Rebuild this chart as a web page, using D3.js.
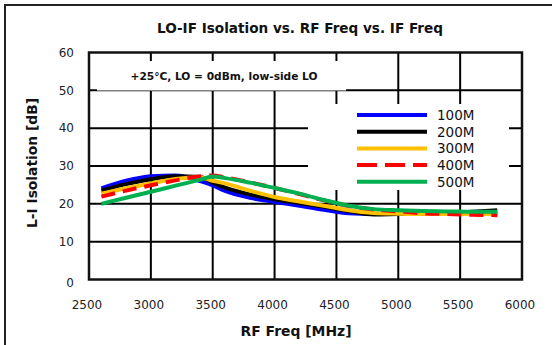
<!DOCTYPE html>
<html>
<head>
<meta charset="utf-8">
<script src="https://cdn.jsdelivr.net/npm/d3@7"></script>
<style>
	body { margin: 0; background: #fff; }
	text { font-family: "DejaVu Sans", Verdana, sans-serif; }
</style>
</head>
<body>
<svg id="graphic" width="552" height="345"></svg>
<script>
var rfFreq = [2600, 2800, 3000, 3200, 3400, 3500, 3600, 3800, 4000, 4200, 4400, 4600, 4800, 5000, 5200, 5400, 5600, 5800];

var iso100 = [24.1, 26.1, 27.3, 27.5, 26.0, 24.9, 23.4, 21.6, 20.5, 19.5, 18.4, 17.5, 17.3, 17.3, 17.3, 17.3, 17.3, 17.3];
var iso200 = [23.5, 25.2, 26.5, 27.3, 27.1, 25.6, 24.3, 22.5, 21.2, 20.2, 19.2, 18.1, 17.2, 17.3, 17.4, 17.6, 17.9, 18.3];
var iso300 = [22.7, 24.1, 25.4, 26.6, 27.0, 26.1, 25.4, 23.5, 21.8, 20.6, 19.5, 18.3, 17.6, 17.4, 17.3, 17.3, 17.3, 17.3];
var iso400 = [21.9, 23.5, 24.9, 26.2, 27.3, 27.5, 27.0, 25.7, 24.2, 22.6, 20.9, 19.4, 18.5, 18.0, 17.5, 17.3, 17.1, 17.0];
var iso500 = [20.0, 21.6, 23.2, 24.8, 26.4, 27.2, 26.8, 25.6, 24.2, 22.7, 21.0, 19.5, 18.6, 18.3, 18.1, 18.0, 17.9, 17.9];

var seriesNames = ["100M", "200M", "300M", "400M", "500M"];
var seriesValues = [iso100, iso200, iso300, iso400, iso500];
var seriesColors = ["#0000ff", "#000000", "#ffc000", "#ff0000", "#00b050"];

var xTicks = [2500, 3000, 3500, 4000, 4500, 5000, 5500, 6000];
var yTicks = [0, 10, 20, 30, 40, 50, 60];

var titleText = "LO-IF Isolation vs. RF Freq vs. IF Freq";
var noteText = "+25\u00b0C, LO = 0dBm, low-side LO";


function drawChart() {
	var svg = d3.select("svg"),
		plot = { left: 89, right: 522, top: 52.5, bottom: 279.5 };

	// outer frame, runs off the right and bottom edge
	svg.append("rect")
		.attr("x", 5).attr("y", 5)
		.attr("width", 600).attr("height", 400)
		.attr("fill", "none")
		.attr("stroke", "#222")
		.attr("stroke-width", 2);

	var x = d3.scaleLinear().domain([2500, 6000]).range([plot.left, plot.right]);
	var y = d3.scaleLinear().domain([0, 60]).range([plot.bottom, plot.top]);

	// grid
	var grid = svg.append("g").attr("stroke", "#000").attr("stroke-width", 2);

	grid.selectAll("line.v")
		.data(xTicks.slice(1, -1))
		.enter().append("line")
			.attr("class", "v")
			.attr("x1", function(d) { return x(d); })
			.attr("x2", function(d) { return x(d); })
			.attr("y1", plot.top)
			.attr("y2", plot.bottom);

	grid.selectAll("line.h")
		.data(yTicks.slice(1, -1))
		.enter().append("line")
			.attr("class", "h")
			.attr("y1", function(d) { return y(d); })
			.attr("y2", function(d) { return y(d); })
			.attr("x1", plot.left)
			.attr("x2", plot.right);

	// note box and legend box hide the grid behind them
	svg.append("rect")
		.attr("x", 97).attr("y", 61)
		.attr("width", 249).attr("height", 29.5)
		.attr("fill", "#fff");

	svg.append("text")
		.attr("x", 224)
		.attr("y", 80)
		.attr("text-anchor", "middle")
		.attr("font-size", "10.5px")
		.attr("font-weight", "bold")
		.attr("fill", "#111")
		.attr("textLength", 187)
		.attr("lengthAdjust", "spacingAndGlyphs")
		.text(noteText);

	svg.append("rect")
		.attr("x", 308).attr("y", 104)
		.attr("width", 201).attr("height", 86)
		.attr("fill", "#fff");

	// plot border
	svg.append("rect")
		.attr("x", plot.left).attr("y", plot.top)
		.attr("width", plot.right - plot.left)
		.attr("height", plot.bottom - plot.top)
		.attr("fill", "none")
		.attr("stroke", "#111")
		.attr("stroke-width", 2.5);

	var line = d3.line()
		.x(function(d) { return x(d[0]); })
		.y(function(d) { return y(d[1]); })
		.curve(d3.curveMonotoneX);

	for (var i = 0; i < seriesNames.length; i++) {
		var pts = rfFreq.map(function(f, j) { return [f, seriesValues[i][j]]; });

		svg.append("path")
			.datum(pts)
			.attr("fill", "none")
			.attr("stroke", seriesColors[i])
			.attr("stroke-width", 4)
			.attr("stroke-dasharray", seriesNames[i] == "400M" ? "14,8" : null)
			.attr("d", line);
	}

	// legend
	var leg = svg.append("g").attr("transform", "translate(357,115)");

	var rows = leg.selectAll("g")
		.data(seriesNames)
		.enter().append("g")
			.attr("transform", function(d, i) { return "translate(0," + (i * 16.7) + ")"; });

	rows.append("line")
		.attr("x1", 0).attr("x2", 70)
		.attr("stroke", function(d, i) { return seriesColors[i]; })
		.attr("stroke-width", 4)
		.attr("stroke-dasharray", function(d) { return d == "400M" ? "20,8" : null; });

	rows.append("text")
		.attr("x", 80)
		.attr("dy", "0.37em")
		.attr("font-size", "13.5px")
		.attr("fill", "#111")
		.text(function(d) { return d; });

	// tick labels
	svg.append("g").selectAll("text")
		.data(yTicks)
		.enter().append("text")
			.attr("x", 74)
			.attr("y", function(d) { return y(d) + (d == 0 ? 3 : 0); })
			.attr("dy", "0.36em")
			.attr("text-anchor", "end")
			.attr("font-size", "12px")
			.attr("fill", "#222")
			.text(function(d) { return d; });

	svg.append("g").selectAll("text")
		.data(xTicks)
		.enter().append("text")
			.attr("x", function(d) { return x(d) - 2; })
			.attr("y", 309)
			.attr("text-anchor", "middle")
			.attr("font-size", "12px")
			.attr("fill", "#222")
			.text(function(d) { return d; });

	// titles
	svg.append("text")
		.attr("x", 300)
		.attr("y", 33)
		.attr("text-anchor", "middle")
		.attr("font-size", "14px")
		.attr("font-weight", "bold")
		.attr("fill", "#111")
		.attr("textLength", 286)
		.attr("lengthAdjust", "spacingAndGlyphs")
		.text(titleText);

	svg.append("text")
		.attr("x", 296)
		.attr("y", 336)
		.attr("text-anchor", "middle")
		.attr("font-size", "14px")
		.attr("font-weight", "bold")
		.attr("fill", "#111")
		.attr("textLength", 111)
		.attr("lengthAdjust", "spacingAndGlyphs")
		.text("RF Freq [MHz]");

	svg.append("text")
		.attr("transform", "translate(37,163) rotate(-90)")
		.attr("text-anchor", "middle")
		.attr("font-size", "14px")
		.attr("font-weight", "bold")
		.attr("fill", "#111")
		.attr("textLength", 130)
		.attr("lengthAdjust", "spacingAndGlyphs")
		.text("L-I Isolation [dB]");
}

drawChart();
</script>
</body>
</html>
